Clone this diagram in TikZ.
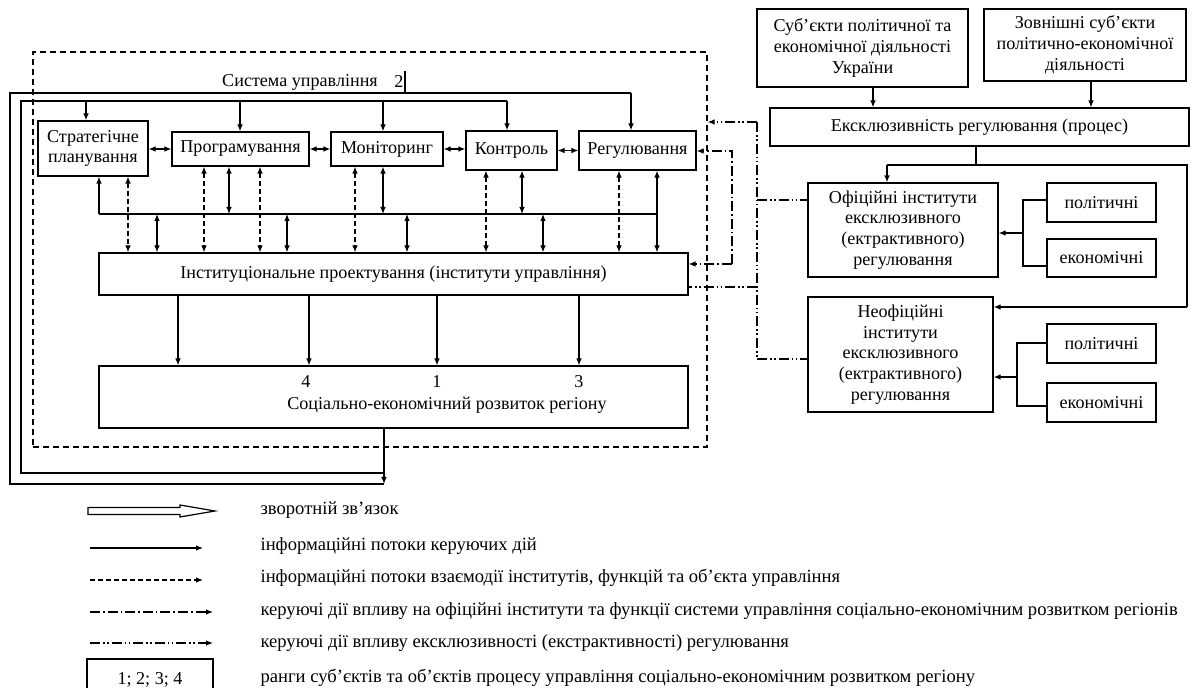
\documentclass[tikz,border=0pt]{standalone}
\usepackage{fontspec}
\setmainfont{Liberation Serif}
\usetikzlibrary{arrows.meta}
\newcommand{\fsz}{\fontsize{9.05}{10.4}\selectfont}
\newcommand{\lsz}{\fontsize{9.3}{10.4}\selectfont}
\begin{document}
\begin{tikzpicture}[x=0.5pt,y=-0.5pt,line width=0.6pt,
  rect/.style n args={4}{minimum width={(#3-#1)*0.5pt},minimum height={(#4-#2)*0.5pt},at={({(#1+#3)/2},{(#2+#4)/2})}},
  box/.style={draw,inner sep=0pt,align=center,font=\fsz},
  txt/.style={inner sep=0pt,font=\fsz},
  ltxt/.style={inner sep=0pt,font=\lsz,anchor=west},
  arr/.style={-{Latex[length=3.5pt,width=2.8pt]}},
  dbl/.style={{Latex[length=3.5pt,width=2.8pt]}-{Latex[length=3.5pt,width=2.8pt]}},
  dsh/.style={dash pattern=on 2.5pt off 1.5pt},
  frm/.style={draw,dash pattern=on 3pt off 2pt,inner sep=0pt},
  ddot/.style={dash pattern=on 5pt off 1.5pt on 0.8pt off 1.5pt},
  dddot/.style={dash pattern=on 5pt off 1.5pt on 0.8pt off 1.2pt on 0.8pt off 1.5pt}]
\clip (0,0) rectangle (1192,688);
\fill[white] (0,0) rectangle (1192,688);

% system frame
\node[frm,rect={33}{52}{707}{447}] (sys) {};
\node[txt] (title) at (300,82) {Система управління};
\node[txt] (two) at (399,82) {2};
\coordinate (barT) at (405,71);
\coordinate (barB) at (405,92);
\draw (barT) -- (barB);

% functions
\node[box,rect={38}{121}{148}{176}] (strat) {Стратегічне\\планування};
\node[box,rect={172}{132}{309}{166}] (prog) {Програмування};
\node[box,rect={331}{132}{443}{166}] (mon) {Моніторинг};
\node[box,rect={466}{131}{557}{170}] (kontr) {Контроль};
\node[box,rect={579}{131}{696}{170}] (reg) {Регулювання};

\draw[dbl] (prog.west -| strat.east) -- (prog.west);
\draw[dbl] (prog.east) -- (mon.west);
\draw[dbl] (mon.east) -- (mon.east -| kontr.west);
\draw[dbl] (kontr.east) -- (reg.west);

% institutional design and development
\node[box,rect={99}{253}{688}{295}] (inst) {Інституціональне проектування (інститути управління)};
\node[box,rect={99}{366}{688}{428}] (soc) {};
\node[txt] (n4) at (306,382) {4};
\node[txt] (n1) at (437,382) {1};
\node[txt] (n3) at (579,382) {3};
\node[txt] (soct) at (447,405) {Соціально-економічний розвиток регіону};

% bus
\coordinate (busL) at (99,214);
\coordinate (busR) at (657,214);
\draw (busL) -- (busR);
\draw[arr] (busL) -- (busL |- strat.south);
\coordinate (v1) at (128,214);
\coordinate (v2) at (157,214);
\coordinate (v3) at (204,214);
\coordinate (v4) at (229,214);
\coordinate (v5) at (260,214);
\coordinate (v6) at (287,214);
\coordinate (v7) at (355,214);
\coordinate (v8) at (383,214);
\coordinate (v9) at (407,214);
\coordinate (v10) at (486,214);
\coordinate (v11) at (522,214);
\coordinate (v12) at (543,214);
\coordinate (v13) at (619,214);
\draw[dbl,dsh] (v1 |- strat.south) -- (v1 |- inst.north);
\draw[dbl] (v2) -- (v2 |- inst.north);
\draw[dbl,dsh] (v3 |- prog.south) -- (v3 |- inst.north);
\draw[dbl] (v4 |- prog.south) -- (v4);
\draw[dbl,dsh] (v5 |- prog.south) -- (v5 |- inst.north);
\draw[dbl] (v6) -- (v6 |- inst.north);
\draw[dbl,dsh] (v7 |- mon.south) -- (v7 |- inst.north);
\draw[dbl] (v8 |- mon.south) -- (v8);
\draw[dbl] (v9) -- (v9 |- inst.north);
\draw[dbl,dsh] (v10 |- kontr.south) -- (v10 |- inst.north);
\draw[dbl] (v11 |- kontr.south) -- (v11);
\draw[dbl] (v12) -- (v12 |- inst.north);
\draw[dbl,dsh] (v13 |- reg.south) -- (v13 |- inst.north);
\draw[dbl] (busR |- reg.south) -- (busR |- inst.north);

% institutional design -> development
\coordinate (d1) at (178,330);
\coordinate (d2) at (309,330);
\coordinate (d3) at (437,330);
\coordinate (d4) at (579,330);
\draw[arr] (d1 |- inst.south) -- (d1 |- soc.north);
\draw[arr] (d2 |- inst.south) -- (d2 |- soc.north);
\draw[arr] (d3 |- inst.south) -- (d3 |- soc.north);
\draw[arr] (d4 |- inst.south) -- (d4 |- soc.north);

% feedback loops
\coordinate (fA) at (384,484);
\coordinate (fB) at (384,473);
\coordinate (oA) at (10,93);
\coordinate (oB) at (21,101);
\coordinate (rA) at (631,93);
\coordinate (kB) at (507,101);
\draw[arr] (fA |- soc.south) -- (fA);
\draw (fA) -| (oA) -- (rA);
\draw[arr] (rA) -- (rA |- reg.north);
\draw (fB) -| (oB) -- (kB);
\draw[arr] (kB) -- (kB |- kontr.north);
\coordinate (t1) at (86,101);
\coordinate (t2) at (240,101);
\coordinate (t3) at (383,101);
\draw[arr] (t1) -- (t1 |- strat.north);
\draw[arr] (t2) -- (t2 |- prog.north);
\draw[arr] (t3) -- (t3 |- mon.north);

% right part
\node[box,rect={757}{9}{968}{87}] (sub1) {Суб’єкти політичної та\\економічної діяльності\\України};
\node[box,rect={984}{9}{1186}{81}] (sub2) {Зовнішні суб’єкти\\політично-економічної\\діяльності};
\node[box,rect={770}{108}{1189}{146}] (excl) {Ексклюзивність регулювання (процес)};
\coordinate (a1) at (873,100);
\coordinate (a2) at (1091,100);
\draw[arr] (a1 |- sub1.south) -- (a1 |- excl.north);
\draw[arr] (a2 |- sub2.south) -- (a2 |- excl.north);

\node[box,rect={808}{183}{998}{277}] (ofic) {Офіційні інститути\\ексклюзивного\\(ектрактивного)\\регулювання};
\node[box,rect={1047}{183}{1156}{222}] (pol1) {політичні};
\node[box,rect={1047}{239}{1156}{277}] (ek1) {економічні};
\node[box,rect={808}{297}{993}{412}] (neof) {Неофіційні\\інститути\\ексклюзивного\\(ектрактивного)\\регулювання};
\node[box,rect={1047}{324}{1156}{363}] (pol2) {політичні};
\node[box,rect={1047}{383}{1156}{422}] (ek2) {економічні};

\coordinate (e1) at (976,165);
\coordinate (e2) at (887,165);
\coordinate (e3) at (1187,165);
\coordinate (e4) at (1187,307);
\draw (e1 |- excl.south) -- (e1);
\draw (e2) -- (e3) -- (e4);
\draw[arr] (e2) -- (e2 |- ofic.north);
\draw[arr] (e4) -- (e4 -| neof.east);

\coordinate (k1t) at (1023,200);
\coordinate (k1b) at (1023,266);
\coordinate (k1) at (1023,233);
\draw (k1t -| pol1.west) -- (k1t) -- (k1b) -- (k1b -| ek1.west);
\draw[arr] (k1) -- (k1 -| ofic.east);
\coordinate (k2t) at (1017,343);
\coordinate (k2b) at (1017,406);
\coordinate (k2) at (1017,377);
\draw (k2t -| pol2.west) -- (k2t) -- (k2b) -- (k2b -| ek2.west);
\draw[arr] (k2) -- (k2 -| neof.east);

% dash-dot connectors
\coordinate (gT) at (757,122);
\coordinate (gO) at (757,200);
\coordinate (gI) at (757,287);
\coordinate (gN) at (757,359);
\draw[dddot] (gT) -- (gN);
\draw[dddot,arr] (gT) -- (gT -| sys.east);
\draw[dddot] (gO) -- (gO -| ofic.west);
\draw[dddot] (gI) -- (gI -| inst.east);
\draw[dddot] (gN) -- (gN -| neof.west);
\coordinate (hT) at (732,151);
\coordinate (hB) at (732,264);
\draw[ddot,arr] (hB) -- (hT) -- (hT -| reg.east);
\draw[ddot,arr] (hB) -- (hB -| inst.east);

% legend
\draw (88,507.5) -- (180,507.5) -- (180,505) -- (215,511) -- (180,517) -- (180,514.5) -- (88,514.5) -- cycle;
\coordinate (L2a) at (90,548); \coordinate (L2b) at (203,548);
\coordinate (L3a) at (90,580); \coordinate (L3b) at (203,580);
\coordinate (L4a) at (90,612); \coordinate (L4b) at (213,612);
\coordinate (L5a) at (90,643); \coordinate (L5b) at (213,643);
\draw[arr] (L2a) -- (L2b);
\draw[arr,dsh] (L3a) -- (L3b);
\draw[arr,ddot] (L4a) -- (L4b);
\draw[arr,dddot] (L5a) -- (L5b);
\node[box,rect={87}{659}{213}{701}] (rank) {1; 2; 3; 4};

\node[ltxt] (l1) at (260,510) {зворотній зв’язок};
\node[ltxt] (l2) at (260,546) {інформаційні потоки керуючих дій};
\node[ltxt] (l3) at (260,578) {інформаційні потоки взаємодії інститутів, функцій та об’єкта управління};
\node[ltxt] (l4) at (260,611) {керуючі дії впливу на офіційні інститути та функції системи управління соціально-економічним розвитком регіонів};
\node[ltxt] (l5) at (260,643) {керуючі дії впливу ексклюзивності (екстрактивності) регулювання};
\node[ltxt] (l6) at (260,678) {ранги суб’єктів та об’єктів процесу управління соціально-економічним розвитком регіону};
\end{tikzpicture}
\end{document}
